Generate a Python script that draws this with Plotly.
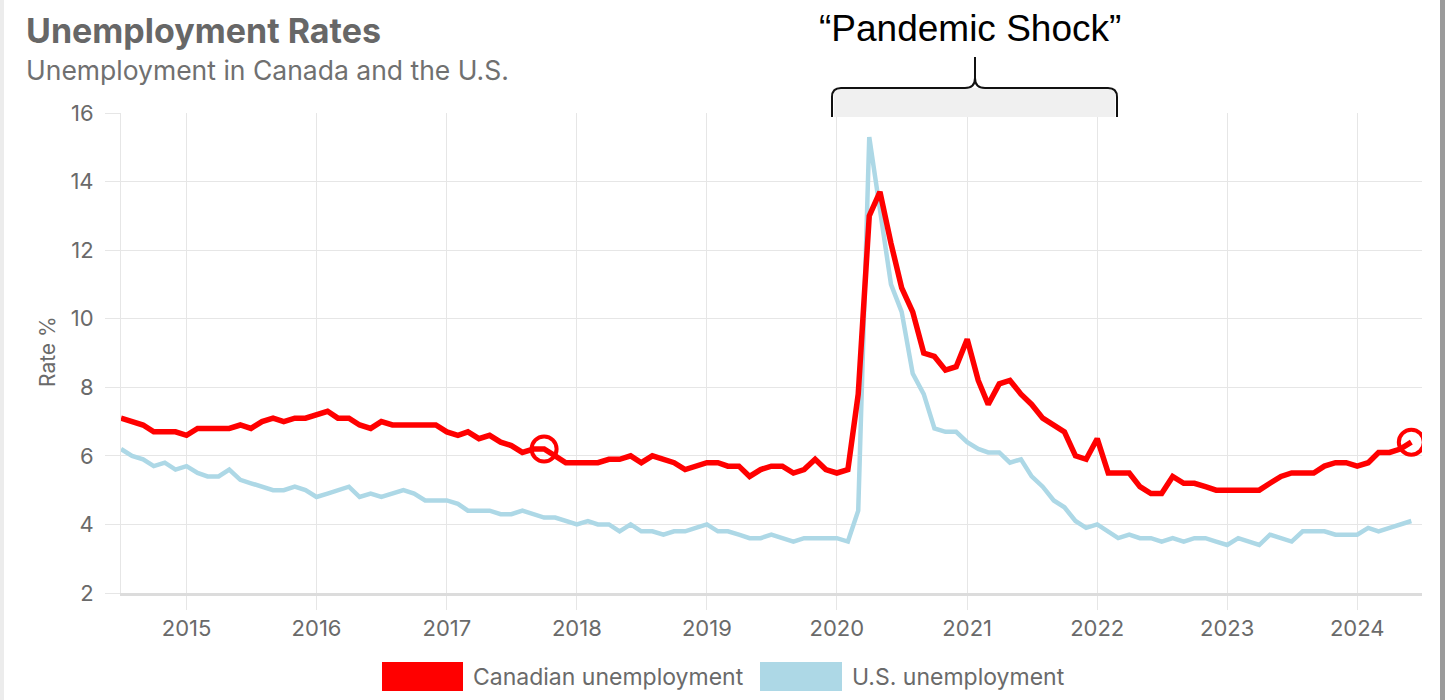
import pandas as pd
import plotly.graph_objects as go

# Monthly unemployment rates, July 2014 to June 2024
months = pd.date_range("2014-07-01", periods=120, freq="MS")

canada_rate = [
    7.1, 7.0, 6.9, 6.7, 6.7, 6.7,                                  # 2014 H2
    6.6, 6.8, 6.8, 6.8, 6.8, 6.9, 6.8, 7.0, 7.1, 7.0, 7.1, 7.1,    # 2015
    7.2, 7.3, 7.1, 7.1, 6.9, 6.8, 7.0, 6.9, 6.9, 6.9, 6.9, 6.9,    # 2016
    6.7, 6.6, 6.7, 6.5, 6.6, 6.4, 6.3, 6.1, 6.2, 6.2, 6.0, 5.8,    # 2017
    5.8, 5.8, 5.8, 5.9, 5.9, 6.0, 5.8, 6.0, 5.9, 5.8, 5.6, 5.7,    # 2018
    5.8, 5.8, 5.7, 5.7, 5.4, 5.6, 5.7, 5.7, 5.5, 5.6, 5.9, 5.6,    # 2019
    5.5, 5.6, 7.8, 13.0, 13.7, 12.2, 10.9, 10.2, 9.0, 8.9, 8.5, 8.6,  # 2020
    9.4, 8.2, 7.5, 8.1, 8.2, 7.8, 7.5, 7.1, 6.9, 6.7, 6.0, 5.9,    # 2021
    6.5, 5.5, 5.5, 5.5, 5.1, 4.9, 4.9, 5.4, 5.2, 5.2, 5.1, 5.0,    # 2022
    5.0, 5.0, 5.0, 5.0, 5.2, 5.4, 5.5, 5.5, 5.5, 5.7, 5.8, 5.8,    # 2023
    5.7, 5.8, 6.1, 6.1, 6.2, 6.4,                                  # 2024 H1
]

us_rate = [
    6.2, 6.0, 5.9, 5.7, 5.8, 5.6,                                  # 2014 H2
    5.7, 5.5, 5.4, 5.4, 5.6, 5.3, 5.2, 5.1, 5.0, 5.0, 5.1, 5.0,    # 2015
    4.8, 4.9, 5.0, 5.1, 4.8, 4.9, 4.8, 4.9, 5.0, 4.9, 4.7, 4.7,    # 2016
    4.7, 4.6, 4.4, 4.4, 4.4, 4.3, 4.3, 4.4, 4.3, 4.2, 4.2, 4.1,    # 2017
    4.0, 4.1, 4.0, 4.0, 3.8, 4.0, 3.8, 3.8, 3.7, 3.8, 3.8, 3.9,    # 2018
    4.0, 3.8, 3.8, 3.7, 3.6, 3.6, 3.7, 3.6, 3.5, 3.6, 3.6, 3.6,    # 2019
    3.6, 3.5, 4.4, 15.3, 13.2, 11.0, 10.2, 8.4, 7.8, 6.8, 6.7, 6.7,  # 2020
    6.4, 6.2, 6.1, 6.1, 5.8, 5.9, 5.4, 5.1, 4.7, 4.5, 4.1, 3.9,    # 2021
    4.0, 3.8, 3.6, 3.7, 3.6, 3.6, 3.5, 3.6, 3.5, 3.6, 3.6, 3.5,    # 2022
    3.4, 3.6, 3.5, 3.4, 3.7, 3.6, 3.5, 3.8, 3.8, 3.8, 3.7, 3.7,    # 2023
    3.7, 3.9, 3.8, 3.9, 4.0, 4.1,                                  # 2024 H1
]

series_names = ["Canadian unemployment", "U.S. unemployment"]
series_colors = ["#ff0000", "#add8e6"]

# Canadian readings circled for emphasis
highlight_months = ["2017-10-01", "2024-06-01"]

title_text = "Unemployment Rates"
subtitle_text = "Unemployment in Canada and the U.S."
callout_text = "\u201cPandemic Shock\u201d"

W, H = 1445, 700
PL, PR, PT, PB = 121, 1422, 113, 593  # plot-area edges in pixels


def to_paper(x, y):
    return (x - PL) / (PR - PL), (PB - y) / (PB - PT)


def path_to_paper(cmds):
    out = []
    for c in cmds:
        if isinstance(c, str):
            out.append(c)
        else:
            px, py = to_paper(*c)
            out.append(f"{px:.5f},{py:.5f}")
    return " ".join(out)


fig = go.Figure()

fig.add_trace(go.Scatter(
    x=months, y=us_rate, mode="lines", name=series_names[1],
    line=dict(color=series_colors[1], width=4.5), showlegend=False,
))
fig.add_trace(go.Scatter(
    x=months, y=canada_rate, mode="lines", name=series_names[0],
    line=dict(color=series_colors[0], width=5.5), showlegend=False,
))

hl_idx = [list(months).index(pd.Timestamp(m)) for m in highlight_months]
fig.add_trace(go.Scatter(
    x=[months[i] for i in hl_idx], y=[canada_rate[i] for i in hl_idx],
    mode="markers", showlegend=False, hoverinfo="skip",
    marker=dict(symbol="circle-open", size=25, color="#ff0000",
                line=dict(color="#ff0000", width=4)),
))

shapes = []
annotations = []

# page edges
shapes.append(dict(type="rect", xref="paper", yref="paper", layer="above",
                   x0=to_paper(0, 0)[0], x1=to_paper(4, 0)[0],
                   y0=to_paper(0, 0)[1], y1=to_paper(0, H)[1],
                   fillcolor="#ececec", line=dict(width=0)))
shapes.append(dict(type="rect", xref="paper", yref="paper", layer="above",
                   x0=to_paper(1440, 0)[0], x1=to_paper(W, 0)[0],
                   y0=to_paper(0, 0)[1], y1=to_paper(0, H)[1],
                   fillcolor="#9b9b9b", line=dict(width=0)))

# shaded bracket band and brace for the pandemic period
bx0, by0 = to_paper(834, 88)
bx1, by1 = to_paper(1115, 117)
shapes.append(dict(type="rect", xref="paper", yref="paper", layer="above",
                   x0=bx0, x1=bx1, y0=by1, y1=by0,
                   fillcolor="#f0f0f0", line=dict(width=0)))
brace = path_to_paper([
    "M", (832, 117), "L", (832, 97), "Q", (832, 88), (841, 88),
    "L", (965, 88), "Q", (975, 88), (975, 78), "L", (975, 57),
    "M", (975, 78), "Q", (975, 88), (985, 88),
    "L", (1108, 88), "Q", (1117, 88), (1117, 97), "L", (1117, 117),
])
shapes.append(dict(type="path", xref="paper", yref="paper", layer="above",
                   path=brace, line=dict(color="#111111", width=2)))

cx, cy = to_paper(970, 28)
annotations.append(dict(xref="paper", yref="paper", x=cx, y=cy,
                        xanchor="center", yanchor="middle", showarrow=False,
                        text=callout_text,
                        font=dict(family="Liberation Sans, Arial", size=37, color="#000000")))

# title block
tx, ty = to_paper(24, 30)
annotations.append(dict(xref="paper", yref="paper", x=tx, y=ty,
                        xanchor="left", yanchor="middle", showarrow=False,
                        text=f"<b>{title_text}</b>",
                        font=dict(family="Inter", size=34, color="#676767")))
sx, sy = to_paper(24, 70)
annotations.append(dict(xref="paper", yref="paper", x=sx, y=sy,
                        xanchor="left", yanchor="middle", showarrow=False,
                        text=subtitle_text,
                        font=dict(family="Inter", size=26.5, color="#707070")))

# y-axis label
lx, ly = to_paper(47, 352)
annotations.append(dict(xref="paper", yref="paper", x=lx, y=ly,
                        xanchor="center", yanchor="middle", showarrow=False,
                        textangle=-90, text="Rate %",
                        font=dict(family="Inter", size=21, color="#6a6a6a")))

# legend swatches
swatches = [(382, 463), (760, 842)]
for (x0, x1), name, color in zip(swatches, series_names, series_colors):
    px0, py0 = to_paper(x0, 662)
    px1, py1 = to_paper(x1, 691)
    shapes.append(dict(type="rect", xref="paper", yref="paper",
                       x0=px0, x1=px1, y0=py1, y1=py0,
                       fillcolor=color, line=dict(width=0)))
    ax_, ay_ = to_paper(x1 + 8, 677)
    annotations.append(dict(xref="paper", yref="paper", x=ax_, y=ay_,
                            xanchor="left", yanchor="middle", showarrow=False,
                            text=name,
                            font=dict(family="Inter", size=23, color="#6a6a6a")))

fig.update_layout(
    width=W, height=H,
    margin=dict(l=PL, r=W - PR, t=PT, b=H - PB),
    paper_bgcolor="#ffffff", plot_bgcolor="#ffffff",
    showlegend=False,
    shapes=shapes, annotations=annotations,
    font=dict(family="Inter", color="#6a6a6a"),
    xaxis=dict(
        type="date", range=["2014-07-01", "2024-07-01"],
        tick0="2015-01-01", dtick="M12", tickformat="%Y",
        showgrid=True, gridcolor="#e6e6e6", gridwidth=1,
        ticks="outside", ticklen=14, tickcolor="#e6e6e6",
        showline=True, linecolor="#dcdcdc", linewidth=3,
        tickfont=dict(family="Inter", size=22, color="#6a6a6a"),
        zeroline=False, fixedrange=True,
    ),
    yaxis=dict(
        range=[2, 16], dtick=2,
        showgrid=True, gridcolor="#e6e6e6", gridwidth=1,
        ticks="outside", ticklen=15, tickcolor="#e6e6e6",
        showline=True, linecolor="#e6e6e6", linewidth=1,
        ticklabelstandoff=7,
        tickfont=dict(family="Inter", size=22, color="#6a6a6a"),
        zeroline=False, fixedrange=True,
    ),
)

fig.write_html("out.html")
